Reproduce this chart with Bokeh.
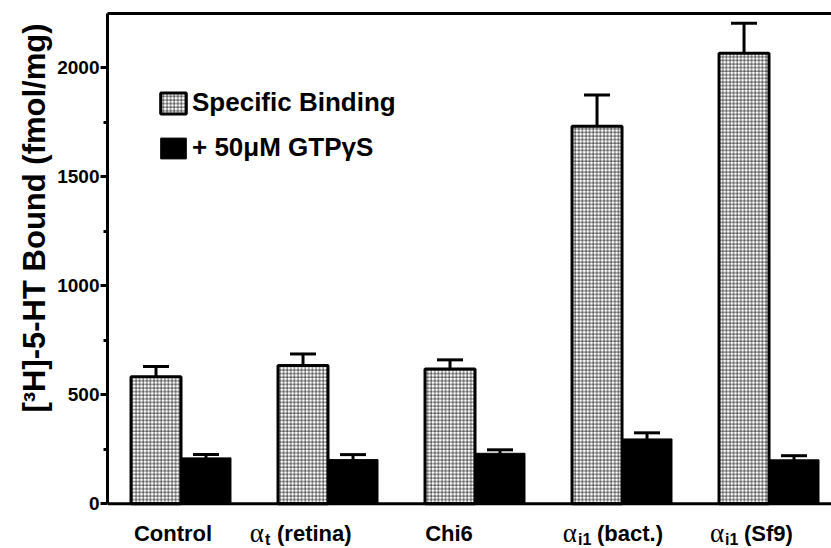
import numpy as np
from bokeh.plotting import figure
from bokeh.models import (Range1d, LinearAxis, FixedTicker, ColumnDataSource,
                          Whisker, TeeHead, Label, Legend, LegendItem, Span, Title)
from bokeh.embed import file_html
from bokeh.resources import INLINE

# ---- data ----
categories = ["Control", "αt (retina)", "Chi6", "αi1 (bact.)", "αi1 (Sf9)"]
tick_greek = ["", "α", "", "α", "α"]
tick_sub = ["", "t", "", "i1", "i1"]
tick_text = ["Control", "(retina)", "Chi6", "(bact.)", "(Sf9)"]
specific = [583, 634, 618, 1732, 2067]
specific_err = [46, 53, 42, 144, 138]
gtp = [210, 202, 231, 297, 201]
gtp_err = [15, 23, 16, 28, 19]
y_ticks = [0, 500, 1000, 1500, 2000]
y_minor = [250, 750, 1250, 1750]
y_label = "[³H]-5-HT Bound (fmol/mg)"
series_names = ["Specific Binding", "+ 50μM GTPγS"]

FONT = "Liberation Sans"
W, H = 831, 548
bar_w = 0.34
centers = np.arange(len(categories)) + 0.5
Y_TOP = 2250
Y_BAND = 206   # room below zero for the category labels

p = figure(width=W, height=H, output_backend="svg", toolbar_location=None,
           x_range=Range1d(0, 4.925), y_range=Range1d(-Y_BAND, Y_TOP),
           min_border_left=107, min_border_right=0, min_border_top=13, min_border_bottom=0,
           x_axis_type=None, y_axis_type=None)
p.grid.visible = False
p.outline_line_color = None
p.background_fill_color = "white"
p.border_fill_color = "white"

src_s = ColumnDataSource(dict(x=centers - bar_w / 2, top=specific,
                              up=np.array(specific) + np.array(specific_err)))
src_g = ColumnDataSource(dict(x=centers + bar_w / 2, top=gtp,
                              up=np.array(gtp) + np.array(gtp_err)))

r1 = p.vbar(x="x", top="top", width=bar_w, bottom=0, source=src_s,
            fill_color="white", line_color="black", line_width=3,
            hatch_pattern="+", hatch_scale=3.6, hatch_weight=0.9,
            hatch_color="black", hatch_alpha=0.7)
r2 = p.vbar(x="x", top="top", width=bar_w, bottom=0, source=src_g,
            fill_color="black", line_color="black", line_width=1)

for src in (src_s, src_g):
    p.add_layout(Whisker(base="x", lower="top", upper="up", source=src,
                         line_width=3, line_color="black",
                         upper_head=TeeHead(size=26, line_width=3, line_color="black"),
                         lower_head=None))

# axes
yax = LinearAxis(ticker=FixedTicker(ticks=y_ticks, minor_ticks=y_minor))
yax.bounds = (0, Y_TOP)
yax.axis_line_width = 3
yax.major_tick_line_width = 3
yax.minor_tick_line_width = 3
yax.major_tick_out = 7
yax.major_tick_in = 0
yax.minor_tick_out = 4
yax.minor_tick_in = 0
yax.major_label_text_font = FONT
yax.major_label_text_font_style = "bold"
yax.major_label_text_font_size = "19px"
yax.major_label_text_color = "black"
yax.major_label_standoff = 1
p.add_layout(yax, "left")

ytitle = Title(text=y_label, align="right", offset=10, standoff=6,
               text_font=FONT, text_font_style="bold", text_font_size="31px",
               text_color="black")
p.add_layout(ytitle, "left")

top_ax = LinearAxis(ticker=FixedTicker(ticks=[]))
top_ax.axis_line_width = 3
top_ax.major_label_text_font_size = "0px"
top_ax.major_label_standoff = 0
p.add_layout(top_ax, "above")

p.add_layout(Span(location=0, dimension="width", line_width=3, line_color="black"))

# category labels
label_dx = [-8, -64, -26, -45, -45]
sub_w = [0, 7, 0, 14, 14]
LY = -30
for xc, g, s, t, dx, sw in zip(centers, tick_greek, tick_sub, tick_text, label_dx, sub_w):
    if not g:
        p.add_layout(Label(x=xc, y=0, x_offset=dx, y_offset=LY, text=t,
                           text_align="center", text_baseline="middle",
                           text_font=FONT, text_font_style="bold",
                           text_font_size="22px", text_color="black"))
    else:
        p.add_layout(Label(x=xc, y=0, x_offset=dx, y_offset=LY + 1, text=g,
                           text_align="right", text_baseline="middle",
                           text_font="Liberation Serif", text_font_size="27px",
                           text_color="black"))
        p.add_layout(Label(x=xc, y=0, x_offset=dx + 1, y_offset=LY - 6, text=s,
                           text_align="left", text_baseline="middle",
                           text_font=FONT, text_font_style="bold",
                           text_font_size="16px", text_color="black"))
        p.add_layout(Label(x=xc, y=0, x_offset=dx + sw + 6, y_offset=LY, text=t,
                           text_align="left", text_baseline="middle",
                           text_font=FONT, text_font_style="bold",
                           text_font_size="22px", text_color="black"))

legend = Legend(items=[LegendItem(label=series_names[0], renderers=[r1]),
                       LegendItem(label=series_names[1], renderers=[r2])],
                location=(50, 385))
legend.border_line_color = None
legend.background_fill_alpha = 0
legend.label_text_font = FONT
legend.label_text_font_style = "bold"
legend.label_text_font_size = "26px"
legend.label_text_color = "black"
legend.glyph_width = 32
legend.glyph_height = 26
legend.label_height = 25
legend.label_standoff = 3
legend.spacing = 14
legend.padding = 0
legend.margin = 0
p.add_layout(legend)

open("out.html", "w").write(file_html(p, INLINE))
